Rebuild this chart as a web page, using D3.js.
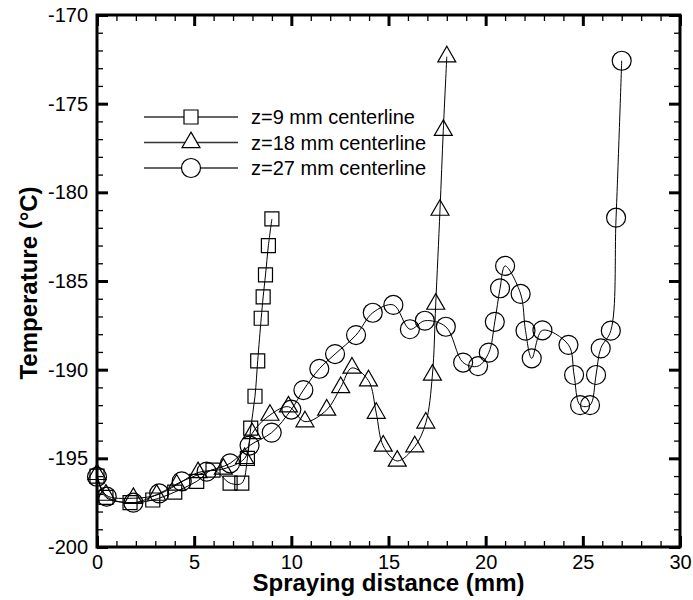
<!DOCTYPE html>
<html>
<head>
<meta charset="utf-8">
<script src="https://cdn.jsdelivr.net/npm/d3@7"></script>
<style>
    body { margin: 0; background: #fff; }
    text { font-family: "Liberation Sans", Arial, sans-serif; }
</style>
</head>
<body>
<svg id="chart" width="693" height="600"></svg>
<script>
// data (mm, degC)
const z9X = [0, 0.46, 1.7, 2.87, 4.0, 5.13, 5.97, 6.85, 7.45, 7.74, 7.91, 8.13, 8.27, 8.45, 8.55, 8.67, 8.82, 9.0];
const z9T = [-196.0, -197.2, -197.5, -197.35, -196.9, -196.3, -195.66, -196.4, -196.4, -195.0, -193.3, -191.5, -189.5, -187.1, -185.9, -184.66, -183.0, -181.5];

const z18X = [0, 0.46, 1.87, 3.07, 4.1, 5.2, 6.5, 7.6, 7.98, 8.9, 9.85, 10.7, 11.82, 12.54, 13.12, 13.97, 14.37, 14.73, 15.45, 16.35, 16.92, 17.26, 17.43, 17.65, 17.82, 18.0];
const z18T = [-195.9, -197.07, -197.25, -197.07, -196.5, -195.8, -195.6, -195.0, -193.6, -192.56, -192.09, -192.93, -192.27, -191.0, -189.9, -190.62, -192.45, -194.3, -195.15, -194.34, -193.0, -190.3, -186.3, -181.0, -176.5, -172.35];

const z27X = [0, 0.5, 1.87, 3.2, 4.36, 5.64, 6.85, 7.85, 8.99, 10.0, 10.62, 11.44, 12.25, 13.33, 14.19, 15.25, 16.1, 16.87, 17.95, 18.84, 19.61, 20.16, 20.47, 20.74, 21.0, 21.8, 22.05, 22.37, 22.92, 24.26, 24.55, 24.86, 25.37, 25.68, 25.92, 26.44, 26.71, 27.0];
const z27T = [-196.04, -197.16, -197.5, -196.98, -196.3, -195.75, -195.28, -194.28, -193.55, -192.25, -191.15, -189.95, -189.12, -188.05, -186.79, -186.35, -187.72, -187.24, -187.58, -189.6, -189.8, -189.04, -187.3, -185.41, -184.15, -185.73, -187.8, -189.36, -187.78, -188.6, -190.3, -192.0, -192.0, -190.3, -188.8, -187.8, -181.43, -172.58];

const seriesNames = ["z=9 mm centerline", "z=18 mm centerline", "z=27 mm centerline"];
const xTicks = [0, 5, 10, 15, 20, 25, 30];
const yTicks = [-200, -195, -190, -185, -180, -175, -170];

const plotL = 97, plotR = 680, plotT = 15, plotB = 547;

const x = d3.scaleLinear().domain([0, 30]).range([plotL, plotR]);
const y = d3.scaleLinear().domain([-200, -170]).range([plotB, plotT]);

const svg = d3.select('#chart');

// minor + major ticks on all four sides, pointing inward
function ticks(axis, tr, vals, size, width, labels) {
    const g = svg.append('g')
        .attr('transform', tr)
        .call(axis.tickValues(vals).tickSizeInner(-size).tickSizeOuter(0)
            .tickPadding(labels ? 8 : 0)
            .tickFormat(labels ? (d => String(d)) : ''));
    g.select('.domain').remove();
    g.selectAll('line').attr('stroke', '#000').attr('stroke-width', width);
    g.selectAll('text').attr('font-size', 20).attr('fill', '#000');
    return g;
}
const xMinor = d3.range(0, 31, 1);
const yMinor = d3.range(-200, -169, 1);

ticks(d3.axisBottom(x), `translate(0,${plotB})`, xMinor, 6, 1.3, false);
ticks(d3.axisTop(x), `translate(0,${plotT})`, xMinor, 6, 1.3, false);
ticks(d3.axisLeft(y), `translate(${plotL},0)`, yMinor, 6, 1.3, false);
ticks(d3.axisRight(y), `translate(${plotR},0)`, yMinor, 6, 1.3, false);

ticks(d3.axisBottom(x), `translate(0,${plotB})`, xTicks, 11, 3, true);
ticks(d3.axisTop(x), `translate(0,${plotT})`, xTicks, 11, 3, false);
ticks(d3.axisLeft(y), `translate(${plotL},0)`, yTicks, 11, 3, true).selectAll('text').attr('x', -9);
ticks(d3.axisRight(y), `translate(${plotR},0)`, yTicks, 11, 3, false);

svg.append('rect')
    .attr('x', plotL).attr('y', plotT)
    .attr('width', plotR - plotL).attr('height', plotB - plotT)
    .attr('fill', 'none')
    .attr('stroke', '#000')
    .attr('stroke-width', 3);

// axis titles
svg.append('text')
    .attr('x', (plotL + plotR) / 2)
    .attr('y', 591)
    .attr('text-anchor', 'middle')
    .attr('font-size', 24)
    .attr('font-weight', 'bold')
    .text('Spraying distance (mm)');

svg.append('text')
    .attr('transform', `translate(37,${(plotT + plotB) / 2 + 2}) rotate(-90)`)
    .attr('text-anchor', 'middle')
    .attr('font-size', 24)
    .attr('font-weight', 'bold')
    .text('Temperature (°C)');

const symbols = [
    d3.symbol().type(d3.symbolSquare).size(196),
    d3.symbol().type(d3.symbolTriangle).size(140),
    d3.symbol().type(d3.symbolCircle).size(283)
];

const series = [
    d3.zip(z9X, z9T),
    d3.zip(z18X, z18T),
    d3.zip(z27X, z27T)
];

const line = d3.line()
    .x(d => x(d[0]))
    .y(d => y(d[1]))
    .curve(d3.curveCatmullRom.alpha(0.5));

series.forEach((pts, i) => {
    svg.append('path')
        .attr('d', line(pts))
        .attr('fill', 'none')
        .attr('stroke', '#000')
        .attr('stroke-width', 1);

    svg.append('g')
        .selectAll('path')
        .data(pts)
        .enter()
        .append('path')
        .attr('transform', d => `translate(${x(d[0])},${y(d[1])})`)
        .attr('d', symbols[i])
        .attr('fill', 'none')
        .attr('stroke', '#000')
        .attr('stroke-width', 1.2);
});

// legend
const legend = svg.append('g').attr('transform', 'translate(144,117)');
seriesNames.forEach((name, i) => {
    const row = legend.append('g').attr('transform', `translate(0,${i * 25.5})`);
    row.append('line')
        .attr('x1', 0).attr('x2', 94)
        .attr('stroke', '#333')
        .attr('stroke-width', 1.3);
    row.append('path')
        .attr('transform', 'translate(47,0)')
        .attr('d', symbols[i])
        .attr('fill', '#fff')
        .attr('stroke', '#000')
        .attr('stroke-width', 1.2);
    row.append('text')
        .attr('x', 107)
        .attr('dy', '0.35em')
        .attr('font-size', 20)
        .text(name);
});
</script>
</body>
</html>
